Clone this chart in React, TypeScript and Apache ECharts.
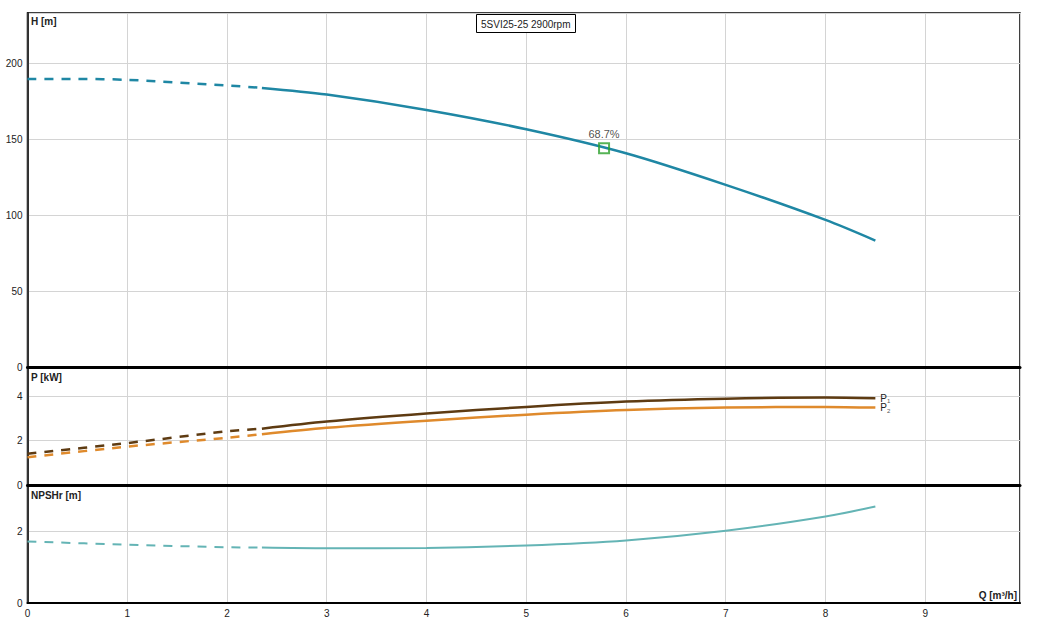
import React, { useEffect, useRef } from "react";
import * as echarts from "echarts";

// ---- data ----
const qHDash = [0, 0.5, 1, 2, 2.35];
const hDash = [189.5, 189.6, 189.0, 185.3, 183.7];
const qSolid = [2.35, 3, 4, 5, 6, 7, 8, 8.5];
const hSolid = [183.7, 179.3, 169.2, 156.5, 140.7, 119.9, 96.8, 83.2];

const qDash = [0, 1, 2, 2.35];
const p1Dash = [1.41, 1.89, 2.42, 2.54];
const p1Solid = [2.54, 2.86, 3.22, 3.52, 3.76, 3.89, 3.94, 3.91];
const p2Dash = [1.25, 1.73, 2.13, 2.29];
const p2Solid = [2.29, 2.58, 2.9, 3.17, 3.38, 3.49, 3.52, 3.49];
const npshDash = [1.72, 1.63, 1.56, 1.55];
const npshSolid = [1.55, 1.53, 1.54, 1.61, 1.75, 2.02, 2.42, 2.7];

const bepQ = 5.78;
const bepH = 144;
const bepLabel = "68.7%";

const title = "5SVI25-25 2900rpm";
const yNames = ["H [m]", "P [kW]", "NPSHr [m]"];
const xName = "Q [m³/h]";

const FONT = "'Liberation Sans', Arial, sans-serif";
const C_H = "#1f87a4";
const C_P1 = "#5e3b12";
const C_P2 = "#df8a2c";
const C_N = "#64b4b5";
const DASH = [9, 8];

const zip = (xs: number[], ys: number[]) => xs.map((x, i) => [x, ys[i]]);

export default function App() {
  const ref = useRef<HTMLDivElement>(null);
  useEffect(() => {
    const chart = echarts.init(ref.current!, undefined, { renderer: "svg" });
    const L = 27.5;
    const R = 21;
    const grids = [
      { top: 13, height: 354 },
      { top: 367, height: 118 },
      { top: 485, height: 118 },
    ].map((g) => ({
      left: L,
      right: R,
      top: g.top,
      height: g.height,
      show: true,
      borderColor: "#000",
      borderWidth: 1.5,
      containLabel: false,
    }));
    const xAxisBase = (i: number) => ({
      type: "value" as const,
      gridIndex: i,
      min: 0,
      max: 9.95,
      interval: 1,
      axisLine: {
        show: true,
        onZero: false,
        lineStyle: { color: "#000", width: i < 2 ? 3 : 2 },
      },
      axisTick: { show: false },
      axisLabel: {
        show: i === 2,
        showMaxLabel: false,
        color: "#222",
        fontSize: 10,
        fontFamily: FONT,
        margin: 5,
      },
      splitLine: { show: true, lineStyle: { color: "#d4d4d4", width: 1 } },
    });
    const yAxisBase = (i: number, max: number, interval: number) => ({
      type: "value" as const,
      gridIndex: i,
      min: 0,
      max,
      interval,
      axisLine: { show: true, lineStyle: { color: "#000", width: 1.5 } },
      axisTick: { show: false },
      axisLabel: {
        showMaxLabel: false,
        color: "#222",
        fontSize: 10,
        fontFamily: FONT,
        margin: 5,
      },
      splitLine: { show: true, lineStyle: { color: "#d4d4d4", width: 1 } },
    });
    const lineS = (
      xi: number,
      data: number[][],
      color: string,
      dashed: boolean,
      width: number,
      extra: any = {}
    ) => ({
      type: "line",
      xAxisIndex: xi,
      yAxisIndex: xi,
      data,
      smooth: 0.3,
      showSymbol: false,
      symbol: "none",
      lineStyle: { color, width, type: dashed ? DASH : "solid" },
      z: 3,
      ...extra,
    });
    const sub = (n: string) => ({
      show: true,
      formatter: `{p|P}{s|${n}}`,
      distance: 5,
      rich: {
        p: { fontSize: 10, color: "#222", fontFamily: FONT },
        s: { fontSize: 6, color: "#555", fontFamily: FONT, padding: [6, 0, 0, 0] },
      },
    });
    const nameText = (text: string, left: number, top: number) => ({
      type: "text",
      left,
      top,
      style: { text, fill: "#222", font: `bold 10px ${FONT}` },
      z: 10,
    });
    chart.setOption({
      animation: false,
      backgroundColor: "#fff",
      title: {
        text: title,
        left: 476,
        top: 14,
        padding: [5, 5, 4, 5],
        borderColor: "#000",
        borderWidth: 1,
        backgroundColor: "#fff",
        textStyle: { fontSize: 10, fontWeight: "normal", color: "#222", fontFamily: FONT },
        z: 10,
      },
      grid: grids,
      xAxis: [xAxisBase(0), xAxisBase(1), xAxisBase(2)],
      yAxis: [yAxisBase(0, 233, 50), yAxisBase(1, 5.32, 2), yAxisBase(2, 3.3, 2)],
      graphic: [
        nameText(yNames[0], 31, 16),
        nameText(yNames[1], 31, 372),
        nameText(yNames[2], 31, 490),
        { ...nameText(xName, 0, 590), left: undefined, right: 24 },
      ],
      series: [
        lineS(0, zip(qHDash, hDash), C_H, true, 2.5),
        lineS(0, zip(qSolid, hSolid), C_H, false, 2.5),
        {
          type: "scatter",
          xAxisIndex: 0,
          yAxisIndex: 0,
          data: [[bepQ, bepH]],
          symbol: "rect",
          symbolSize: 10,
          itemStyle: { color: "rgba(255,255,255,0)", borderColor: "#2ca02c", borderWidth: 2 },
          label: {
            show: true,
            position: "top",
            distance: 3,
            formatter: bepLabel,
            color: "#222",
            fontSize: 11,
            fontFamily: FONT,
          },
          z: 5,
        },
        lineS(1, zip(qDash, p1Dash), C_P1, true, 2.5),
        lineS(1, zip(qSolid, p1Solid), C_P1, false, 2.5, { endLabel: sub("1") }),
        lineS(1, zip(qDash, p2Dash), C_P2, true, 2.5),
        lineS(1, zip(qSolid, p2Solid), C_P2, false, 2.5, { endLabel: sub("2") }),
        lineS(2, zip(qDash, npshDash), C_N, true, 2),
        lineS(2, zip(qSolid, npshSolid), C_N, false, 2),
      ],
    });
    return () => chart.dispose();
  }, []);
  return (
    <div
      ref={ref}
      style={{ position: "fixed", left: 0, top: 0, width: 1041, height: 629, background: "#fff" }}
    />
  );
}
